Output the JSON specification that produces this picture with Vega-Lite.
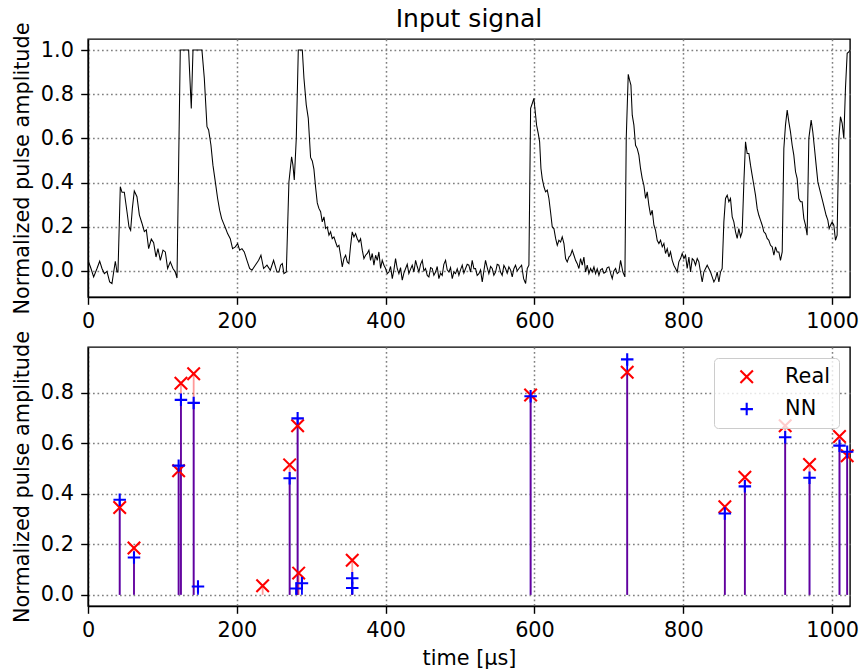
{
  "$schema": "https://vega.github.io/schema/vega-lite/v6.json",
  "padding": {"left": 10, "top": 6, "right": 0, "bottom": 0},
  "background": "white",
  "config": {
    "font": "DejaVu Sans",
    "view": {"stroke": "black", "strokeWidth": 1.4},
    "axis": {
      "labelFont": "DejaVu Sans", "labelFontSize": 20.8, "labelColor": "black",
      "titleFont": "DejaVu Sans", "titleFontSize": 20.8, "titleFontWeight": "normal", "titleColor": "black",
      "tickColor": "black", "tickSize": 7.3, "tickWidth": 1.4, "labelPadding": 7.3,
      "domainColor": "black", "domainWidth": 1.4,
      "gridColor": "#808080", "gridDash": [1.7, 2.8], "gridWidth": 1.5, "gridOpacity": 1,
      "labelFlush": false, "labelOverlap": false, "titlePadding": 8.3
    },
    "title": {"font": "DejaVu Sans", "fontSize": 25, "fontWeight": "normal", "color": "black", "offset": -10.5, "anchor": "middle", "frame": "group"},
    "legend": {
      "labelFont": "DejaVu Sans", "labelFontSize": 20.8, "labelColor": "black",
      "padding": 8.3, "rowPadding": 10.4, "symbolOffset": 14, "labelOffset": 28,
      "symbolSize": 156, "symbolStrokeWidth": 2.1,
      "strokeColor": "#cccccc", "fillColor": "rgba(255,255,255,0.8)", "cornerRadius": 4,
      "orient": "top-right", "offset": 11
    }
  },
  "resolve": {"legend": {"color": "independent", "shape": "independent"}},
  "bounds": "flush",
  "spacing": 50,
  "datasets": {
    "signal": [
      {"t":0.9,"amp":0.041},{"t":4.0,"amp":0.011},{"t":7.6,"amp":-0.027},{"t":12.1,"amp":0.011},{"t":15.7,"amp":0.044},{"t":18.8,"amp":0.011},{"t":22.0,"amp":-0.012},{"t":25.5,"amp":-0.002},{"t":29.1,"amp":-0.050},{"t":32.2,"amp":-0.057},{"t":34.5,"amp":-0.005},{"t":36.7,"amp":0.044},{"t":39.0,"amp":-0.005},{"t":40.3,"amp":-0.005},{"t":43.4,"amp":0.381},{"t":45.7,"amp":0.356},{"t":48.8,"amp":0.356},{"t":52.4,"amp":0.268},{"t":55.1,"amp":0.199},{"t":57.3,"amp":0.184},{"t":59.6,"amp":0.283},{"t":62.2,"amp":0.362},{"t":65.8,"amp":0.336},{"t":69.0,"amp":0.254},{"t":72.5,"amp":0.216},{"t":75.7,"amp":0.178},{"t":78.4,"amp":0.186},{"t":81.5,"amp":0.101},{"t":85.1,"amp":0.144},{"t":88.2,"amp":0.128},{"t":91.4,"amp":0.063},{"t":94.0,"amp":0.101},{"t":97.2,"amp":0.048},{"t":100.8,"amp":0.094},{"t":103.9,"amp":0.086},{"t":107.0,"amp":0.011},{"t":110.6,"amp":0.041},{"t":114.2,"amp":0.011},{"t":117.3,"amp":-0.005},{"t":119.6,"amp":-0.032},{"t":124.0,"amp":1.0},{"t":135.2,"amp":1.0},{"t":138.8,"amp":0.735},{"t":141.1,"amp":1.0},{"t":153.1,"amp":1.0},{"t":156.3,"amp":0.872},{"t":159.9,"amp":0.653},{"t":162.1,"amp":0.638},{"t":165.2,"amp":0.570},{"t":167.9,"amp":0.479},{"t":171.1,"amp":0.403},{"t":174.2,"amp":0.328},{"t":176.9,"amp":0.275},{"t":179.6,"amp":0.237},{"t":182.3,"amp":0.214},{"t":185.0,"amp":0.192},{"t":187.6,"amp":0.169},{"t":191.2,"amp":0.146},{"t":194.3,"amp":0.101},{"t":197.9,"amp":0.109},{"t":201.1,"amp":0.124},{"t":203.8,"amp":0.094},{"t":206.9,"amp":0.101},{"t":210.0,"amp":0.086},{"t":213.6,"amp":0.048},{"t":217.2,"amp":0.011},{"t":220.3,"amp":0.003},{"t":224.8,"amp":0.026},{"t":229.3,"amp":0.048},{"t":232.4,"amp":0.071},{"t":236.0,"amp":0.011},{"t":240.5,"amp":0.026},{"t":245.0,"amp":0.003},{"t":249.4,"amp":0.048},{"t":253.9,"amp":-0.005},
      {"t":256.6,"amp":-0.005},{"t":258.8,"amp":0.026},{"t":261.1,"amp":0.033},{"t":263.3,"amp":-0.012},{"t":266.5,"amp":-0.005},{"t":270.0,"amp":0.403},{"t":273.6,"amp":0.517},{"t":275.4,"amp":0.479},{"t":277.2,"amp":0.412},{"t":279.9,"amp":0.601},{"t":282.6,"amp":1.0},{"t":288.0,"amp":1.0},{"t":290.2,"amp":0.872},{"t":293.3,"amp":0.752},{"t":296.0,"amp":0.692},{"t":299.1,"amp":0.514},{"t":301.4,"amp":0.498},{"t":303.6,"amp":0.461},{"t":305.9,"amp":0.378},{"t":308.1,"amp":0.308},{"t":310.3,"amp":0.283},{"t":312.6,"amp":0.268},{"t":314.8,"amp":0.222},{"t":317.1,"amp":0.245},{"t":319.3,"amp":0.192},{"t":321.5,"amp":0.199},{"t":323.8,"amp":0.162},{"t":326.0,"amp":0.177},{"t":328.2,"amp":0.146},{"t":330.5,"amp":0.154},{"t":332.7,"amp":0.131},{"t":335.0,"amp":0.109},{"t":337.2,"amp":0.116},{"t":339.4,"amp":0.071},{"t":341.7,"amp":0.018},{"t":343.9,"amp":0.056},{"t":346.2,"amp":0.071},{"t":348.4,"amp":0.041},{"t":350.6,"amp":0.033},{"t":352.9,"amp":0.116},{"t":355.1,"amp":0.177},{"t":357.4,"amp":0.154},{"t":359.6,"amp":0.169},{"t":361.8,"amp":0.146},{"t":364.1,"amp":0.131},{"t":366.3,"amp":0.146},{"t":368.6,"amp":0.094},{"t":370.8,"amp":0.056},{"t":373.0,"amp":0.071},{"t":375.3,"amp":0.079},{"t":377.5,"amp":0.094},{"t":379.7,"amp":0.048},{"t":382.0,"amp":0.079},{"t":384.2,"amp":0.026},{"t":386.5,"amp":0.071},{"t":388.7,"amp":0.048},{"t":390.9,"amp":0.086},{"t":393.2,"amp":0.011},{"t":395.4,"amp":0.048},{"t":397.7,"amp":0.026},{"t":399.9,"amp":0.011},
      {"t":402.2,"amp":-0.012},{"t":404.4,"amp":-0.005},{"t":406.6,"amp":0.020},{"t":408.9,"amp":-0.035},{"t":411.1,"amp":0.005},{"t":413.3,"amp":0.056},{"t":415.6,"amp":0.010},{"t":417.8,"amp":-0.012},{"t":420.0,"amp":0.015},{"t":422.3,"amp":-0.042},{"t":424.5,"amp":-0.010},{"t":426.8,"amp":0.011},{"t":429.0,"amp":0.030},{"t":431.2,"amp":-0.012},{"t":433.5,"amp":0.008},{"t":435.7,"amp":0.026},{"t":438.0,"amp":-0.005},{"t":440.2,"amp":0.048},{"t":442.4,"amp":0.020},{"t":444.7,"amp":-0.005},{"t":446.9,"amp":0.030},{"t":449.2,"amp":0.048},{"t":451.4,"amp":0.000},{"t":453.6,"amp":0.011},{"t":455.9,"amp":-0.020},{"t":458.1,"amp":-0.027},{"t":460.4,"amp":0.015},{"t":462.6,"amp":0.011},{"t":464.8,"amp":-0.020},{"t":467.1,"amp":-0.005},{"t":469.3,"amp":0.020},{"t":471.5,"amp":-0.035},{"t":473.8,"amp":-0.010},{"t":476.0,"amp":-0.020},{"t":478.2,"amp":0.030},{"t":480.5,"amp":0.048},{"t":482.7,"amp":0.005},{"t":485.0,"amp":-0.005},{"t":487.2,"amp":0.015},{"t":489.5,"amp":-0.035},{"t":491.7,"amp":-0.005},{"t":493.9,"amp":-0.012},{"t":496.2,"amp":0.010},{"t":498.4,"amp":-0.020},{"t":500.6,"amp":0.005},{"t":502.9,"amp":0.026},{"t":505.1,"amp":-0.010},{"t":507.4,"amp":0.011},{"t":509.6,"amp":0.030},{"t":511.8,"amp":0.026},{"t":514.1,"amp":-0.005},{"t":516.3,"amp":0.048},{"t":518.6,"amp":0.010},{"t":520.8,"amp":0.011},{"t":523.0,"amp":-0.020},{"t":525.3,"amp":-0.012},{"t":527.5,"amp":0.005},{"t":529.8,"amp":-0.050},{"t":532.0,"amp":0.000},{"t":534.2,"amp":0.048},{"t":536.5,"amp":0.015},{"t":538.7,"amp":-0.012},{"t":541.0,"amp":0.020},{"t":543.2,"amp":0.011},{"t":545.4,"amp":-0.020},{"t":547.7,"amp":-0.005},{"t":549.9,"amp":0.030},{"t":552.1,"amp":0.026},{"t":554.4,"amp":-0.005},{"t":556.6,"amp":-0.020},{"t":558.9,"amp":0.025},{"t":561.1,"amp":0.011},{"t":563.3,"amp":-0.010},{"t":565.6,"amp":0.018},{"t":567.8,"amp":0.005},{"t":570.1,"amp":-0.027},{"t":572.3,"amp":0.010},{"t":574.5,"amp":0.026},
      {"t":576.8,"amp":0.000},{"t":579.1,"amp":0.011},{"t":582.7,"amp":0.026},{"t":585.4,"amp":-0.035},{"t":588.1,"amp":-0.057},{"t":590.3,"amp":0.011},{"t":592.5,"amp":0.026},{"t":594.8,"amp":0.736},{"t":597.0,"amp":0.758},{"t":599.2,"amp":0.781},{"t":601.5,"amp":0.705},{"t":602.8,"amp":0.660},{"t":605.1,"amp":0.622},{"t":606.9,"amp":0.585},{"t":608.7,"amp":0.464},{"t":610.4,"amp":0.418},{"t":612.7,"amp":0.381},{"t":614.9,"amp":0.358},{"t":617.2,"amp":0.366},{"t":619.4,"amp":0.328},{"t":621.6,"amp":0.267},{"t":623.9,"amp":0.199},{"t":626.1,"amp":0.192},{"t":628.4,"amp":0.147},{"t":630.6,"amp":0.116},{"t":632.8,"amp":0.139},{"t":635.1,"amp":0.131},{"t":637.3,"amp":0.154},{"t":639.6,"amp":0.124},{"t":641.8,"amp":0.056},{"t":644.0,"amp":0.041},{"t":646.3,"amp":0.063},{"t":648.5,"amp":0.071},{"t":650.7,"amp":0.094},{"t":653.0,"amp":0.071},{"t":655.2,"amp":0.048},{"t":657.5,"amp":0.033},{"t":659.7,"amp":0.011},{"t":661.9,"amp":0.056},{"t":664.2,"amp":0.026},{"t":666.4,"amp":0.063},{"t":668.7,"amp":-0.005},{"t":670.9,"amp":0.026},{"t":673.1,"amp":-0.012},{"t":675.4,"amp":0.011},{"t":677.6,"amp":-0.005},{"t":679.9,"amp":0.018},{"t":682.1,"amp":-0.012},{"t":684.3,"amp":0.010},{"t":686.6,"amp":-0.020},{"t":688.8,"amp":0.005},{"t":691.1,"amp":0.011},{"t":693.3,"amp":-0.010},{"t":695.5,"amp":-0.005},{"t":697.8,"amp":0.015},{"t":700.0,"amp":0.018},{"t":702.2,"amp":-0.010},{"t":704.5,"amp":-0.035},{"t":706.7,"amp":0.000},{"t":709.0,"amp":0.011},{"t":711.2,"amp":-0.012},{"t":713.4,"amp":-0.005},{"t":715.7,"amp":0.048},{"t":718.8,"amp":-0.005},{"t":721.5,"amp":-0.027},{"t":723.3,"amp":0.600},{"t":726.0,"amp":0.890},{"t":727.8,"amp":0.864},{"t":729.6,"amp":0.841},{"t":731.4,"amp":0.705},{"t":733.6,"amp":0.660},{"t":735.8,"amp":0.569},{"t":738.1,"amp":0.554},{"t":740.3,"amp":0.524},{"t":742.5,"amp":0.464},{"t":744.8,"amp":0.418},{"t":747.0,"amp":0.388},{"t":749.3,"amp":0.328},{"t":751.5,"amp":0.358},{"t":753.7,"amp":0.298},{"t":756.0,"amp":0.252},{"t":758.2,"amp":0.275},{"t":760.5,"amp":0.207},{"t":762.7,"amp":0.184},{"t":764.9,"amp":0.139},{"t":767.2,"amp":0.124},{"t":769.4,"amp":0.139},{"t":771.7,"amp":0.109},{"t":773.9,"amp":0.124},{"t":776.1,"amp":0.079},{"t":778.4,"amp":0.101},{"t":780.6,"amp":0.063},{"t":782.8,"amp":0.086},{"t":785.1,"amp":0.048},{"t":787.3,"amp":0.026},{"t":789.6,"amp":0.011},{"t":791.8,"amp":-0.005},{"t":794.0,"amp":0.041},{"t":796.3,"amp":0.056},{"t":798.5,"amp":0.079},{"t":800.8,"amp":0.056},{"t":803.0,"amp":0.071},{"t":805.2,"amp":0.011},{"t":807.5,"amp":0.063},{"t":809.7,"amp":-0.005},{"t":812.0,"amp":0.056},{"t":814.2,"amp":0.048},{"t":816.4,"amp":0.026},{"t":818.7,"amp":0.056},
      {"t":820.9,"amp":0.041},{"t":823.1,"amp":-0.005},{"t":825.4,"amp":-0.050},{"t":827.6,"amp":-0.005},{"t":829.9,"amp":0.011},{"t":832.1,"amp":0.026},{"t":834.3,"amp":0.011},{"t":836.6,"amp":-0.005},{"t":838.8,"amp":-0.027},{"t":841.1,"amp":-0.050},{"t":843.3,"amp":-0.035},{"t":845.5,"amp":-0.005},{"t":847.8,"amp":-0.050},{"t":850.0,"amp":-0.005},{"t":852.2,"amp":0.011},{"t":854.5,"amp":0.222},{"t":856.7,"amp":0.328},{"t":859.0,"amp":0.343},{"t":861.2,"amp":0.313},{"t":863.4,"amp":0.328},{"t":865.7,"amp":0.245},{"t":867.9,"amp":0.222},{"t":870.2,"amp":0.177},{"t":872.4,"amp":0.147},{"t":874.6,"amp":0.192},{"t":876.9,"amp":0.154},{"t":879.1,"amp":0.177},{"t":881.4,"amp":0.403},{"t":883.6,"amp":0.585},{"t":885.8,"amp":0.532},{"t":888.1,"amp":0.532},{"t":890.3,"amp":0.479},{"t":892.5,"amp":0.434},{"t":894.8,"amp":0.388},{"t":897.0,"amp":0.343},{"t":899.3,"amp":0.282},{"t":901.5,"amp":0.252},{"t":903.7,"amp":0.230},{"t":906.0,"amp":0.207},{"t":908.2,"amp":0.177},{"t":910.5,"amp":0.169},{"t":912.7,"amp":0.147},{"t":914.9,"amp":0.139},{"t":917.2,"amp":0.116},{"t":919.4,"amp":0.109},{"t":921.7,"amp":0.071},{"t":923.9,"amp":0.109},{"t":926.1,"amp":0.086},{"t":928.4,"amp":0.086},{"t":930.6,"amp":0.048},{"t":932.9,"amp":0.086},{"t":935.1,"amp":0.554},{"t":937.3,"amp":0.660},{"t":939.6,"amp":0.728},{"t":941.8,"amp":0.675},{"t":944.0,"amp":0.630},{"t":946.3,"amp":0.569},{"t":948.5,"amp":0.524},{"t":950.8,"amp":0.449},{"t":953.0,"amp":0.418},{"t":955.2,"amp":0.328},{"t":957.5,"amp":0.313},{"t":959.7,"amp":0.313},{"t":962.0,"amp":0.237},{"t":964.2,"amp":0.207},{"t":966.4,"amp":0.162},{"t":968.7,"amp":0.600},{"t":971.8,"amp":0.683},{"t":974.0,"amp":0.630},{"t":976.3,"amp":0.554},{"t":978.5,"amp":0.479},{"t":980.8,"amp":0.403},{"t":983.0,"amp":0.373},{"t":985.2,"amp":0.343},{"t":987.5,"amp":0.313},{"t":989.7,"amp":0.282},{"t":991.9,"amp":0.252},{"t":994.2,"amp":0.230},{"t":996.0,"amp":0.192},{"t":997.8,"amp":0.207},{"t":1000.0,"amp":0.222},{"t":1002.3,"amp":0.207},{"t":1004.5,"amp":0.139},{"t":1006.7,"amp":0.162},{"t":1009.0,"amp":0.600},{"t":1011.2,"amp":0.698},{"t":1013.5,"amp":0.668},{"t":1015.7,"amp":0.600},{"t":1017.9,"amp":0.826},{"t":1020.2,"amp":0.985},{"t":1022.4,"amp":0.992},{"t":1024.0,"amp":1.0}
    ],
    "pulses": [
      {"t":42.6,"amp":0.345,"series":"Real"},{"t":61.8,"amp":0.185,"series":"Real"},{"t":121.8,"amp":0.491,"series":"Real"},{"t":124.9,"amp":0.837,"series":"Real"},{"t":142.0,"amp":0.874,"series":"Real"},{"t":234.7,"amp":0.036,"series":"Real"},{"t":271.0,"amp":0.514,"series":"Real"},{"t":281.7,"amp":0.669,"series":"Real"},{"t":283.1,"amp":0.086,"series":"Real"},{"t":355.1,"amp":0.137,"series":"Real"},{"t":594.8,"amp":0.79,"series":"Real"},{"t":724.6,"amp":0.88,"series":"Real"},{"t":855.8,"amp":0.348,"series":"Real"},{"t":882.7,"amp":0.465,"series":"Real"},{"t":936.9,"amp":0.669,"series":"Real"},{"t":969.6,"amp":0.515,"series":"Real"},{"t":1009.9,"amp":0.626,"series":"Real"},{"t":1020.2,"amp":0.55,"series":"Real"},
      {"t":42.6,"amp":0.376,"series":"NN"},{"t":61.8,"amp":0.148,"series":"NN"},{"t":121.8,"amp":0.511,"series":"NN"},{"t":124.9,"amp":0.771,"series":"NN"},{"t":142.0,"amp":0.759,"series":"NN"},{"t":147.8,"amp":0.033,"series":"NN"},{"t":271.0,"amp":0.461,"series":"NN"},{"t":281.7,"amp":0.698,"series":"NN"},{"t":279.9,"amp":0.025,"series":"NN"},{"t":287.5,"amp":0.046,"series":"NN"},{"t":355.1,"amp":0.066,"series":"NN"},{"t":355.1,"amp":0.027,"series":"NN"},{"t":594.8,"amp":0.785,"series":"NN"},{"t":724.6,"amp":0.931,"series":"NN"},{"t":855.8,"amp":0.322,"series":"NN"},{"t":882.7,"amp":0.429,"series":"NN"},{"t":936.9,"amp":0.623,"series":"NN"},{"t":969.6,"amp":0.463,"series":"NN"},{"t":1009.9,"amp":0.59,"series":"NN"},{"t":1020.2,"amp":0.566,"series":"NN"}
    ]
  },
  "vconcat": [
    {
      "title": {"text": "Input signal"},
      "width": 762,
      "height": 258,
      "data": {"name": "signal"},
      "mark": {"type": "line", "color": "black", "strokeWidth": 1.05, "clip": true},
      "encoding": {
        "x": {"field": "t", "type": "quantitative", "scale": {"domain": [0, 1024], "nice": false, "zero": false},
              "axis": {"values": [0, 200, 400, 600, 800, 1000], "format": "d", "title": null, "grid": true}},
        "y": {"field": "amp", "type": "quantitative", "scale": {"domain": [-0.118, 1.05], "nice": false, "zero": false},
              "axis": {"values": [0, 0.2, 0.4, 0.6, 0.8, 1.0], "format": ".1f", "title": "Normalized pulse amplitude", "grid": true}}
      }
    },
    {
      "width": 762,
      "height": 259,
      "data": {"name": "pulses"},
      "encoding": {
        "x": {"field": "t", "type": "quantitative", "scale": {"domain": [0, 1024], "nice": false, "zero": false},
              "axis": {"values": [0, 200, 400, 600, 800, 1000], "format": "d", "title": "time [μs]", "grid": true}},
        "y": {"field": "amp", "type": "quantitative", "scale": {"domain": [-0.044, 0.98], "nice": false, "zero": false},
              "axis": {"values": [0, 0.2, 0.4, 0.6, 0.8], "format": ".1f", "title": "Normalized pulse amplitude", "grid": true}}
      },
      "layer": [
        {
          "transform": [{"filter": "datum.series === 'NN'"}],
          "mark": {"type": "rule", "color": "#0000ff", "strokeWidth": 1.8},
          "encoding": {"y2": {"datum": 0}}
        },
        {
          "transform": [{"filter": "datum.series === 'Real'"}],
          "mark": {"type": "rule", "color": "#ff0000", "strokeWidth": 1.8, "opacity": 0.4},
          "encoding": {"y2": {"datum": 0}}
        },
        {
          "transform": [{"aggregate": [{"op": "min", "field": "t", "as": "t0"}, {"op": "max", "field": "t", "as": "t1"}]}],
          "mark": {"type": "rule", "color": "#d62728", "strokeWidth": 2.2},
          "encoding": {
            "x": {"field": "t0", "type": "quantitative"},
            "x2": {"field": "t1"},
            "y": {"datum": 0}
          }
        },
        {
          "mark": {"type": "point", "filled": false, "strokeWidth": 2.1, "size": 156, "opacity": 1},
          "encoding": {
            "color": {"field": "series", "type": "nominal", "scale": {"domain": ["Real", "NN"], "range": ["#ff0000", "#0000ff"]}, "legend": {"title": null}},
            "shape": {"field": "series", "type": "nominal", "scale": {"domain": ["Real", "NN"], "range": ["M-1,-1L1,1M-1,1L1,-1", "M-1,0L1,0M0,-1L0,1"]}, "legend": {"title": null}}
          }
        }
      ]
    }
  ]
}
